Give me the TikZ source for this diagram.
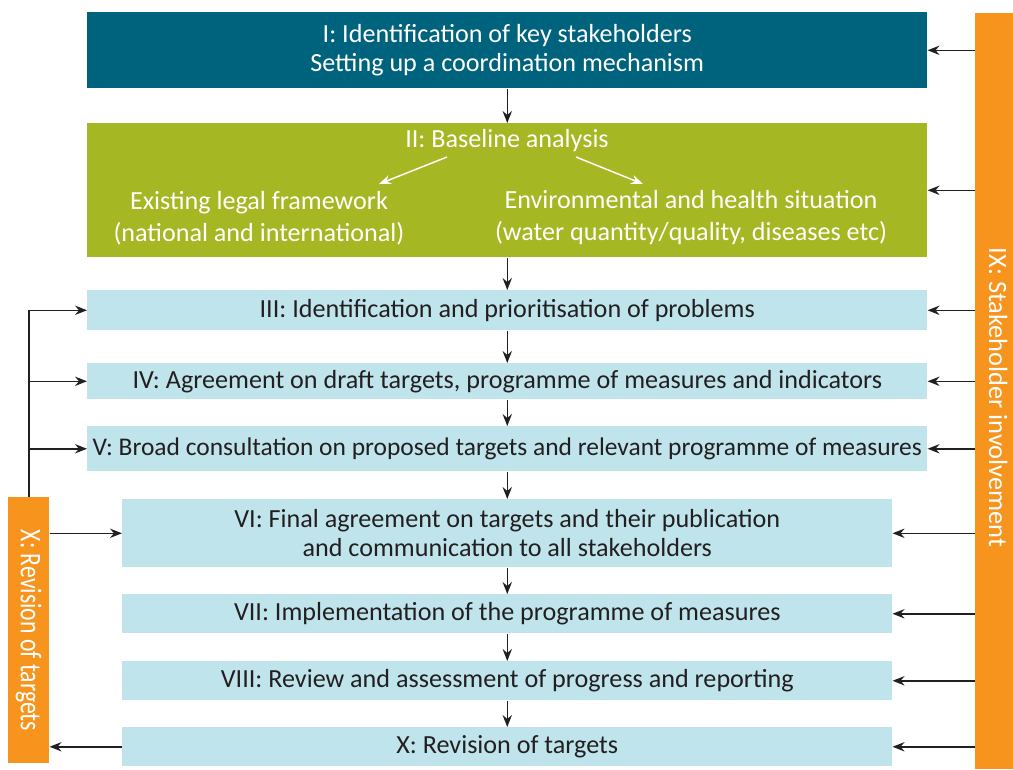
\documentclass[tikz,border=0pt]{standalone}
\usepackage{fontspec}
\setmainfont{Carlito}
\usetikzlibrary{arrows.meta}
\definecolor{tealbox}{RGB}{0,99,126}
\definecolor{olivebox}{RGB}{165,184,36}
\definecolor{lightbox}{RGB}{191,228,236}
\definecolor{orangebar}{RGB}{247,148,30}
\definecolor{inkdark}{RGB}{35,31,32}
\tikzset{
  stage/.style={draw=none, inner sep=0pt, anchor=north west, font=\fontsize{19.6}{21.5}\selectfont, align=center},
  darkstage/.style={stage, fill=tealbox, text=white},
  greenstage/.style={stage, fill=olivebox, text=white},
  bluestage/.style={stage, fill=lightbox, text=inkdark},
  sidebar/.style={draw=none, fill=orangebar, inner sep=0pt, anchor=north west},
  bartext/.style={text=white, inner sep=0pt, anchor=base, rotate=-90},
  flow/.style={draw=inkdark, line width=1.1pt, -{Stealth[length=9pt, width=7pt, inset=3pt]}},
  whiteflow/.style={draw=white, line width=1.1pt, -{Stealth[length=9pt, width=7pt, inset=3pt]}}
}
\begin{document}
\begin{tikzpicture}[x=0.75pt, y=-0.75pt]
\useasboundingbox (0,0) rectangle (1013,769);

% main sequence of stages
\node[darkstage, minimum width=840*0.75pt, minimum height=76*0.75pt] (s1) at (87,12)
  {I: Identification of key stakeholders\\Setting up a coordination mechanism};
\node[greenstage, minimum width=840*0.75pt, minimum height=134*0.75pt] (s2) at (87,123) {};
\node[bluestage, minimum width=840*0.75pt, minimum height=40*0.75pt] (s3) at (87,290)
  {III: Identification and prioritisation of problems};
\node[bluestage, minimum width=840*0.75pt, minimum height=36*0.75pt] (s4) at (87,363)
  {IV: Agreement on draft targets, programme of measures and indicators};
\node[bluestage, minimum width=840*0.75pt, minimum height=45*0.75pt, font=\fontsize{19.1}{21.5}\selectfont] (s5) at (87,426)
  {V: Broad consultation on proposed targets and relevant programme of measures};
\node[bluestage, minimum width=770*0.75pt, minimum height=68*0.75pt] (s6) at (122,499)
  {VI: Final agreement on targets and their publication\\and communication to all stakeholders};
\node[bluestage, minimum width=770*0.75pt, minimum height=39*0.75pt] (s7) at (122,594)
  {VII: Implementation of the programme of measures};
\node[bluestage, minimum width=770*0.75pt, minimum height=39*0.75pt] (s8) at (122,661)
  {VIII: Review and assessment of progress and reporting};
\node[bluestage, minimum width=770*0.75pt, minimum height=39*0.75pt] (s10) at (122,727)
  {X: Revision of targets};

% contents of the baseline analysis stage
\node[text=white, font=\fontsize{19.6}{22}\selectfont] (base) at (507,141) {II: Baseline analysis};
\node[text=white, font=\fontsize{19.6}{24}\selectfont, align=center] (legal) at (259,218)
  {Existing legal framework\\(national and international)};
\node[text=white, font=\fontsize{19.6}{24}\selectfont, align=center] (env) at (691,218)
  {Environmental and health situation\\(water quantity/quality, diseases etc)};
\coordinate (bl) at (447,157);
\coordinate (br) at (576,157);
\coordinate (tl) at (379,184);
\coordinate (tr) at (643,184);
\draw[whiteflow] (bl) -- (tl);
\draw[whiteflow] (br) -- (tr);

% side bars
\node[sidebar, minimum width=38*0.75pt, minimum height=756*0.75pt] (ix) at (975,13) {};
\node[bartext, font=\fontsize{19.8}{22}\selectfont] (ixlabel) at (989,397.5) {IX: Stakeholder involvement};
\node[sidebar, minimum width=41*0.75pt, minimum height=266*0.75pt] (xb) at (8,497) {};
\node[bartext, font=\fontsize{22.5}{24}\selectfont] (xlabel) at (21,630.5)
  {\scalebox{0.79}[1]{X: Revision of targets}};

% downward flow
\draw[flow] (s1.south) -- (s1.south |- s2.north);
\draw[flow] (s2.south) -- (s2.south |- s3.north);
\draw[flow] (s3.south) -- (s3.south |- s4.north);
\draw[flow] (s4.south) -- (s4.south |- s5.north);
\draw[flow] (s5.south) -- (s5.south |- s6.north);
\draw[flow] (s6.south) -- (s6.south |- s7.north);
\draw[flow] (s7.south) -- (s7.south |- s8.north);
\draw[flow] (s8.south) -- (s8.south |- s10.north);

% stakeholder involvement feeds every stage
\foreach \s in {s1,s2,s3,s4,s5,s6,s7,s8,s10}
  \draw[flow] (ix.west |- \s.east) -- (\s.east);

% revision loop
\draw[flow] (s10.west) -- (xb.east |- s10.west);
\draw[flow] (xb.east |- s6.west) -- (s6.west);
\draw[flow] (xb.north) |- (s3.west);
\draw[flow] (xb.north |- s4.west) -- (s4.west);
\draw[flow] (xb.north |- s5.west) -- (s5.west);
\end{tikzpicture}
\end{document}
